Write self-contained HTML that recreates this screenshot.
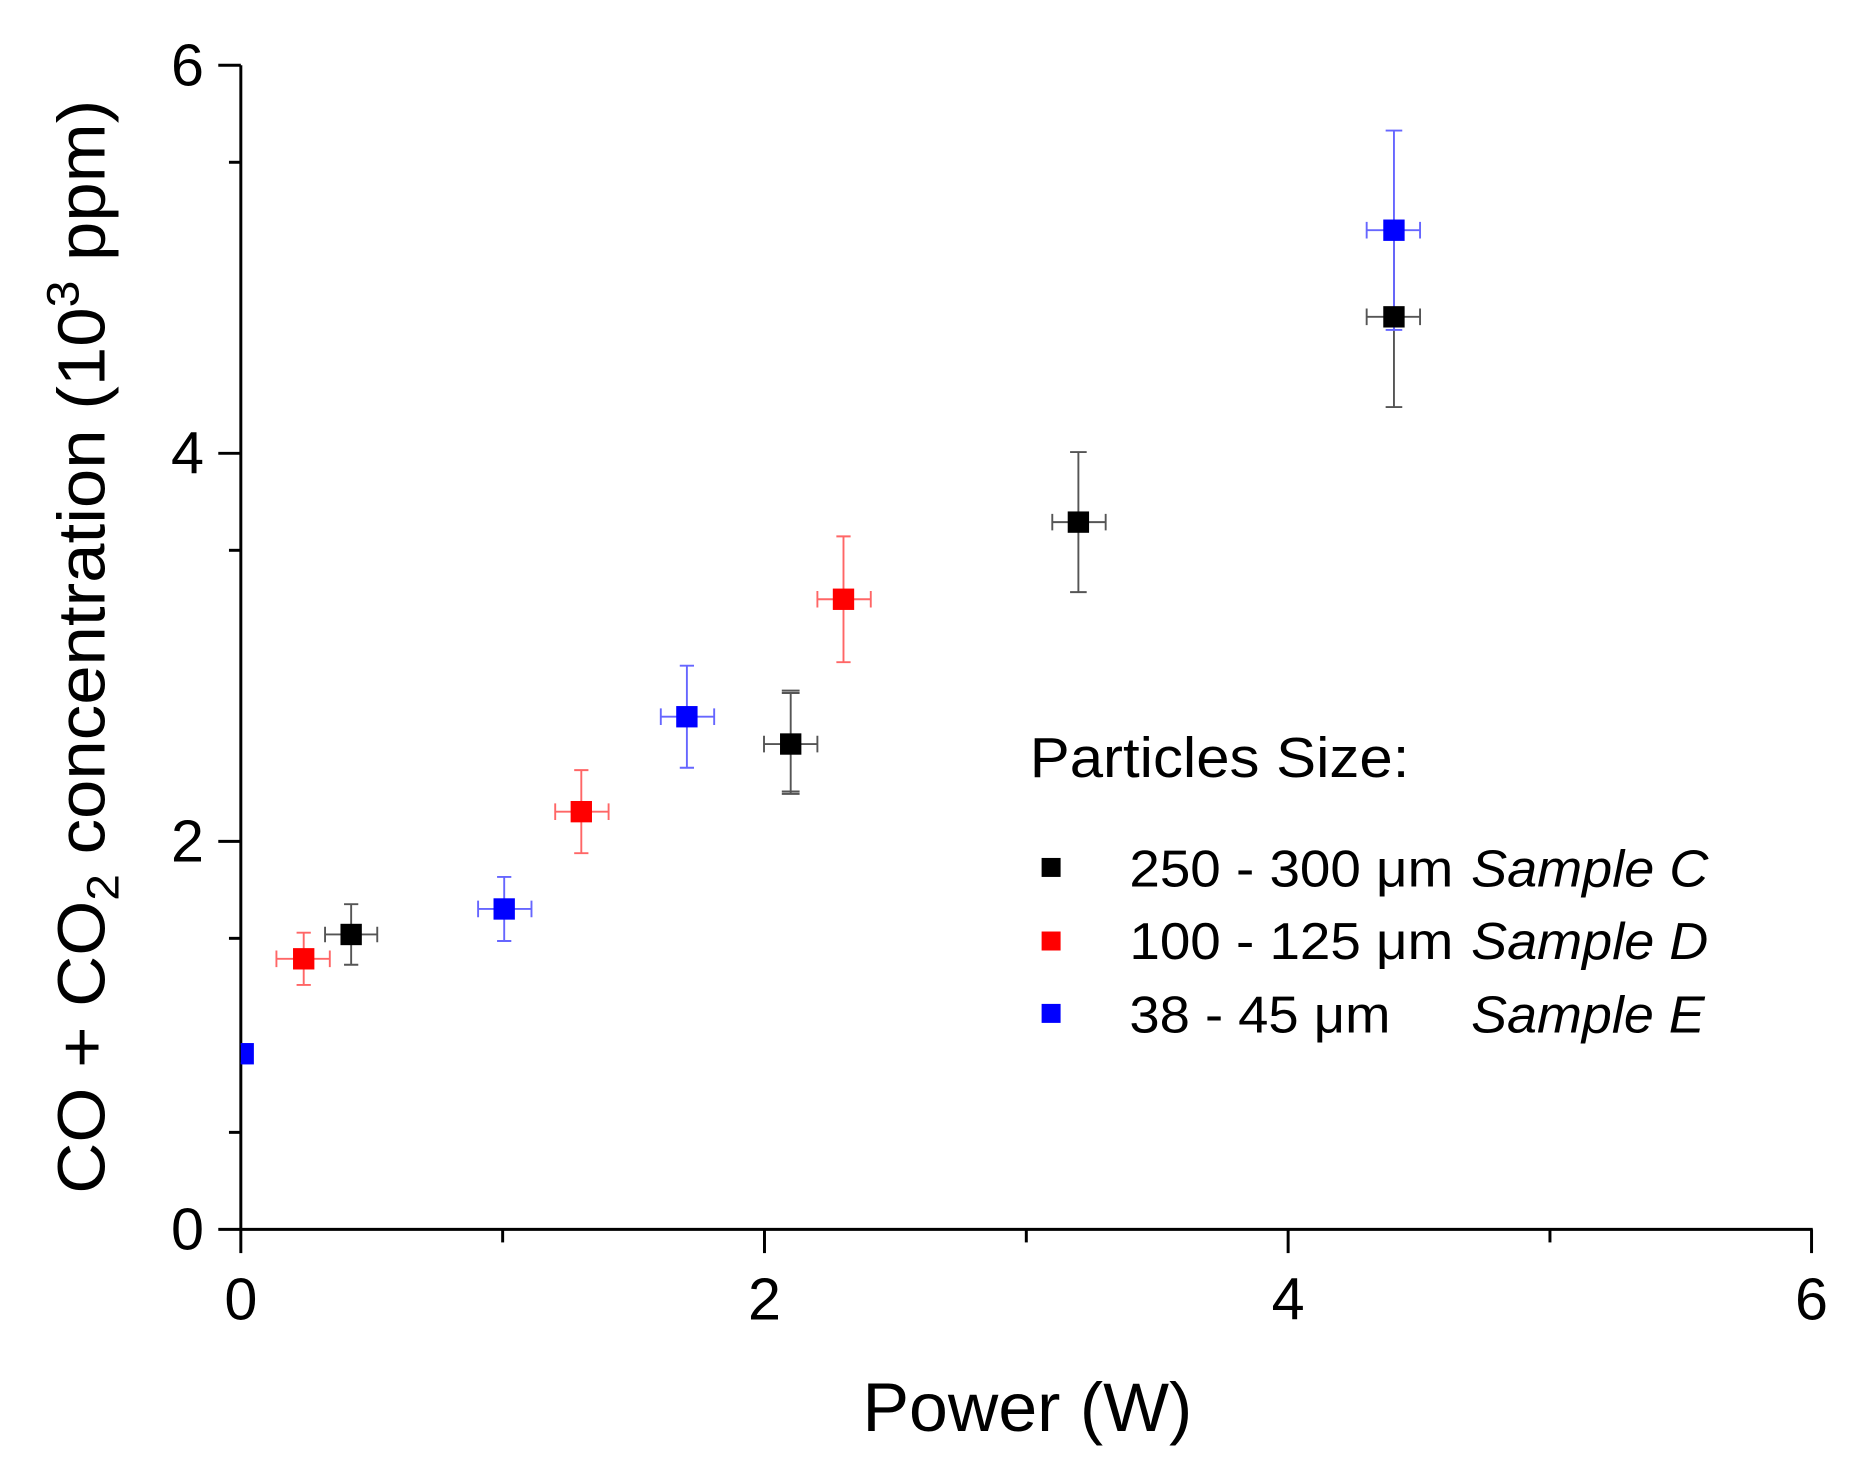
<!DOCTYPE html>
<html><head><meta charset="utf-8"><style>
html,body{margin:0;padding:0;background:#fff;}
svg{display:block;}
text{font-family:"Liberation Sans",Arial,sans-serif;fill:#000;}
</style></head><body>
<svg width="1859" height="1475" viewBox="0 0 1567 1243" preserveAspectRatio="none" xmlns="http://www.w3.org/2000/svg">
<rect width="1567" height="1243" fill="#fff"/>
<g stroke="#000" stroke-width="2.5" fill="none">
<line x1="203" y1="55" x2="203" y2="1037"/>
<line x1="202" y1="1036" x2="1528" y2="1036"/>
<line x1="184" y1="55" x2="203" y2="55"/>
<line x1="193" y1="136.75" x2="203" y2="136.75"/>
<line x1="184" y1="382" x2="203" y2="382"/>
<line x1="193" y1="463.75" x2="203" y2="463.75"/>
<line x1="184" y1="709" x2="203" y2="709"/>
<line x1="193" y1="790.75" x2="203" y2="790.75"/>
<line x1="184" y1="1036" x2="203" y2="1036"/>
<line x1="193" y1="954.25" x2="203" y2="954.25"/>
<line x1="203" y1="1036" x2="203" y2="1056"/>
<line x1="423.7" y1="1036" x2="423.7" y2="1047"/>
<line x1="644.4" y1="1036" x2="644.4" y2="1056"/>
<line x1="865.1" y1="1036" x2="865.1" y2="1047"/>
<line x1="1085.8" y1="1036" x2="1085.8" y2="1056"/>
<line x1="1306.5" y1="1036" x2="1306.5" y2="1047"/>
<line x1="1527" y1="1036" x2="1527" y2="1056"/>
</g>
<g font-size="50" text-anchor="end">
<text x="172" y="72">6</text>
<text x="172" y="399">4</text>
<text x="172" y="726">2</text>
<text x="172" y="1053">0</text>
</g>
<g font-size="50" text-anchor="middle">
<text x="203" y="1112">0</text>
<text x="644.4" y="1112">2</text>
<text x="1085.8" y="1112">4</text>
<text x="1527" y="1112">6</text>
</g>
<text x="866" y="1206" font-size="58" text-anchor="middle" textLength="278" lengthAdjust="spacingAndGlyphs">Power (W)</text>
<text transform="translate(88,1006) rotate(-90)" font-size="56" textLength="922" lengthAdjust="spacingAndGlyphs">CO + CO<tspan font-size="38" dy="12">2</tspan><tspan dy="-12"> concentration (10</tspan><tspan font-size="38" dy="-22">3</tspan><tspan dy="22"> ppm)</tspan></text>

<g stroke-width="1.6" fill="none">
<g stroke="#555">
<path d="M296 762V813M290 762h12M290 813h12M274 787.5h44M274 781v13M318 781v13"/>
<path d="M666.5 584V669M659 584h15M659 669h15M659 582h15M659 667h15M644 627h45M644 620v14M689 620v14"/>
<path d="M909 381V499M902 381h14M902 499h14M887 440h45M887 433v14M932 433v14"/>
<path d="M1175 191V343M1168 343h14M1152 267h45M1152 260v14M1197 260v14"/>
</g>
<g stroke="#f66">
<path d="M256 786V830M250 786h12M250 830h12M233 808h45M233 801v14M278 801v14"/>
<path d="M490 649V719M484 649h12M484 719h12M468 684h45M468 677v14M513 677v14"/>
<path d="M711 452V558M705 452h12M705 558h12M689 505h45M689 498v14M734 498v14"/>
</g>
<g stroke="#66f">
<path d="M207 880V896M203 880h8M203 896h8"/>
<path d="M425 739V793M419 739h12M419 793h12M403 766h45M403 759v14M448 759v14"/>
<path d="M579 561V647M573 561h12M573 647h12M557 604h45M557 597v14M602 597v14"/>
<path d="M1175 110V278M1168 110h14M1168 278h14M1152 194h45M1152 187v14M1197 187v14"/>
</g>
</g>
<g>
<rect x="287" y="778.5" width="18" height="18" fill="#000"/>
<rect x="657.5" y="618" width="18" height="18" fill="#000"/>
<rect x="900" y="431" width="18" height="18" fill="#000"/>
<rect x="1166" y="258" width="18" height="18" fill="#000"/>
<rect x="247" y="799" width="18" height="18" fill="#f00"/>
<rect x="481" y="675" width="18" height="18" fill="#f00"/>
<rect x="702" y="496" width="18" height="18" fill="#f00"/>
<rect x="203" y="879" width="11" height="18" fill="#00f"/>
<rect x="416" y="757" width="18" height="18" fill="#00f"/>
<rect x="570" y="595" width="18" height="18" fill="#00f"/>
<rect x="1166" y="185" width="18" height="18" fill="#00f"/>
</g>
<text x="868" y="655" font-size="48" textLength="320" lengthAdjust="spacingAndGlyphs">Particles Size:</text>
<rect x="878" y="723" width="16" height="16" fill="#000"/>
<rect x="878" y="785" width="16" height="16" fill="#f00"/>
<rect x="878" y="846" width="16" height="16" fill="#00f"/>
<g font-size="44">
<text x="952" y="747" textLength="273" lengthAdjust="spacingAndGlyphs">250 - 300 μm</text>
<text x="952" y="808" textLength="273" lengthAdjust="spacingAndGlyphs">100 - 125 μm</text>
<text x="952" y="870" textLength="220" lengthAdjust="spacingAndGlyphs">38 - 45 μm</text>
<text x="1240" y="747" font-style="italic" textLength="200" lengthAdjust="spacingAndGlyphs">Sample C</text>
<text x="1240" y="808" font-style="italic" textLength="200" lengthAdjust="spacingAndGlyphs">Sample D</text>
<text x="1240" y="870" font-style="italic" textLength="197" lengthAdjust="spacingAndGlyphs">Sample E</text>
</g>
</svg>
</body></html>
